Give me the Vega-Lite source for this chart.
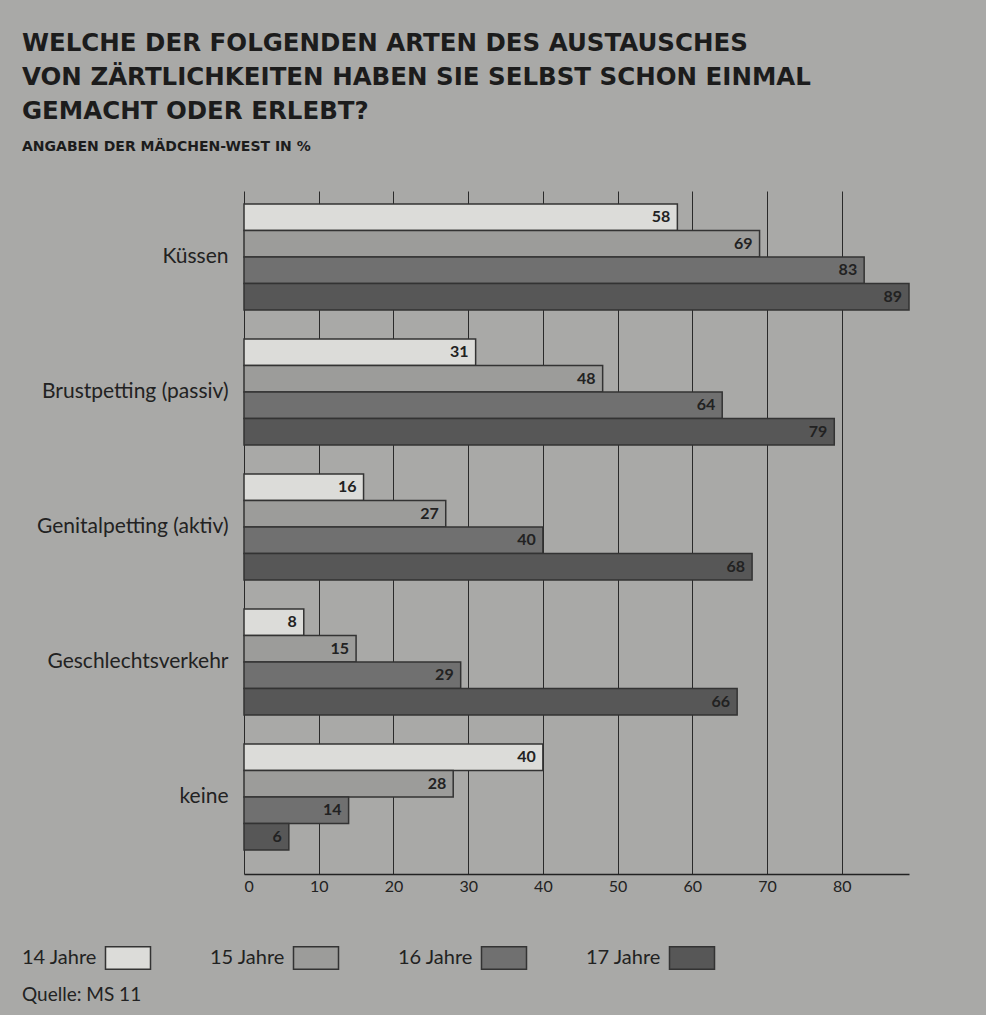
{
  "$schema": "https://vega.github.io/schema/vega-lite/v6.json",
  "background": "#a9a9a7",
  "padding": {"left": 22, "top": 30, "right": 77, "bottom": 12},
  "title": {
    "text": ["WELCHE DER FOLGENDEN ARTEN DES AUSTAUSCHES", "VON ZÄRTLICHKEITEN HABEN SIE SELBST SCHON EINMAL", "GEMACHT ODER ERLEBT?"],
    "subtitle": "ANGABEN DER MÄDCHEN-WEST IN %",
    "anchor": "start",
    "font": "DejaVu Sans",
    "fontSize": 24.5,
    "fontWeight": "bold",
    "color": "#1c1c1c",
    "lineHeight": 34,
    "subtitleFont": "DejaVu Sans",
    "subtitleFontSize": 14,
    "subtitleFontWeight": "bold",
    "subtitleColor": "#1c1c1c",
    "subtitlePadding": 16,
    "offset": 36
  },
  "datasets": {
    "werte": [
      {"Art": "Küssen", "Jahr": "14 Jahre", "Wert": 58},
      {"Art": "Küssen", "Jahr": "15 Jahre", "Wert": 69},
      {"Art": "Küssen", "Jahr": "16 Jahre", "Wert": 83},
      {"Art": "Küssen", "Jahr": "17 Jahre", "Wert": 89},
      {"Art": "Brustpetting (passiv)", "Jahr": "14 Jahre", "Wert": 31},
      {"Art": "Brustpetting (passiv)", "Jahr": "15 Jahre", "Wert": 48},
      {"Art": "Brustpetting (passiv)", "Jahr": "16 Jahre", "Wert": 64},
      {"Art": "Brustpetting (passiv)", "Jahr": "17 Jahre", "Wert": 79},
      {"Art": "Genitalpetting (aktiv)", "Jahr": "14 Jahre", "Wert": 16},
      {"Art": "Genitalpetting (aktiv)", "Jahr": "15 Jahre", "Wert": 27},
      {"Art": "Genitalpetting (aktiv)", "Jahr": "16 Jahre", "Wert": 40},
      {"Art": "Genitalpetting (aktiv)", "Jahr": "17 Jahre", "Wert": 68},
      {"Art": "Geschlechtsverkehr", "Jahr": "14 Jahre", "Wert": 8},
      {"Art": "Geschlechtsverkehr", "Jahr": "15 Jahre", "Wert": 15},
      {"Art": "Geschlechtsverkehr", "Jahr": "16 Jahre", "Wert": 29},
      {"Art": "Geschlechtsverkehr", "Jahr": "17 Jahre", "Wert": 66},
      {"Art": "keine", "Jahr": "14 Jahre", "Wert": 40},
      {"Art": "keine", "Jahr": "15 Jahre", "Wert": 28},
      {"Art": "keine", "Jahr": "16 Jahre", "Wert": 14},
      {"Art": "keine", "Jahr": "17 Jahre", "Wert": 6}
    ],
    "jahre": [
      {"Jahr": "14 Jahre"},
      {"Jahr": "15 Jahre"},
      {"Jahr": "16 Jahre"},
      {"Jahr": "17 Jahre"}
    ]
  },
  "config": {
    "view": {"stroke": null},
    "font": "Lato"
  },
  "spacing": 49,
  "vconcat": [
    {
      "width": 665,
      "height": 683,
      "data": {"name": "werte"},
      "encoding": {
        "y": {
          "field": "Art",
          "type": "nominal",
          "sort": ["Küssen", "Brustpetting (passiv)", "Genitalpetting (aktiv)", "Geschlechtsverkehr", "keine"],
          "scale": {"paddingInner": 0.215, "paddingOuter": 0.137, "align": 0.35},
          "axis": {
            "title": null,
            "domain": false,
            "ticks": false,
            "labelFont": "Lato",
            "labelFontSize": 21,
            "labelColor": "#222222",
            "labelPadding": 16,
            "labelLimit": 240,
            "minExtent": 222
          }
        },
        "yOffset": {
          "field": "Jahr",
          "type": "nominal",
          "sort": ["14 Jahre", "15 Jahre", "16 Jahre", "17 Jahre"],
          "scale": {"paddingInner": 0, "paddingOuter": 0}
        },
        "x": {
          "field": "Wert",
          "type": "quantitative",
          "scale": {"domain": [0, 89], "nice": false},
          "axis": {
            "title": null,
            "values": [0, 10, 20, 30, 40, 50, 60, 70, 80],
            "grid": true,
            "gridColor": "#2a2a2a",
            "gridOpacity": 1,
            "gridWidth": 1,
            "domainColor": "#222222",
            "domainWidth": 1.5,
            "ticks": false,
            "labelFont": "Lato",
            "labelFontSize": 16,
            "labelColor": "#222222",
            "labelPadding": 4
          }
        }
      },
      "layer": [
        {
          "mark": {"type": "bar", "stroke": "#333333", "strokeWidth": 1.5},
          "encoding": {
            "color": {
              "field": "Jahr",
              "type": "nominal",
              "scale": {"domain": ["14 Jahre", "15 Jahre", "16 Jahre", "17 Jahre"], "range": ["#dcdcd9", "#9c9c9a", "#707070", "#575757"]},
              "legend": null
            }
          }
        },
        {
          "mark": {"type": "text", "align": "right", "baseline": "middle", "dx": -7, "font": "Lato", "fontSize": 16, "fontWeight": "bold", "color": "#222222"},
          "encoding": {"text": {"field": "Wert", "type": "quantitative"}}
        }
      ]
    },
    {
      "width": 530,
      "height": 26,
      "data": {"name": "jahre"},
      "title": {"text": "Quelle: MS 11", "orient": "bottom", "anchor": "start", "frame": "bounds", "font": "Lato", "fontSize": 19, "fontWeight": "normal", "color": "#222222", "offset": 14},
      "encoding": {
        "x": {
          "field": "Jahr",
          "type": "nominal",
          "scale": {"range": [-222, 530], "paddingInner": 0, "paddingOuter": 0},
          "axis": null
        }
      },
      "layer": [
        {
          "mark": {"type": "text", "align": "left", "baseline": "middle", "font": "Lato", "fontSize": 20, "color": "#222222", "xOffset": -94},
          "encoding": {"text": {"field": "Jahr", "type": "nominal"}}
        },
        {
          "mark": {"type": "point", "shape": "M-1,-0.5H1V0.5H-1Z", "size": 2025, "filled": true, "opacity": 1, "stroke": "#333333", "strokeWidth": 1.5, "xOffset": 12},
          "encoding": {
            "color": {
              "field": "Jahr",
              "type": "nominal",
              "scale": {"domain": ["14 Jahre", "15 Jahre", "16 Jahre", "17 Jahre"], "range": ["#dcdcd9", "#9c9c9a", "#707070", "#575757"]},
              "legend": null
            }
          }
        }
      ]
    }
  ]
}
